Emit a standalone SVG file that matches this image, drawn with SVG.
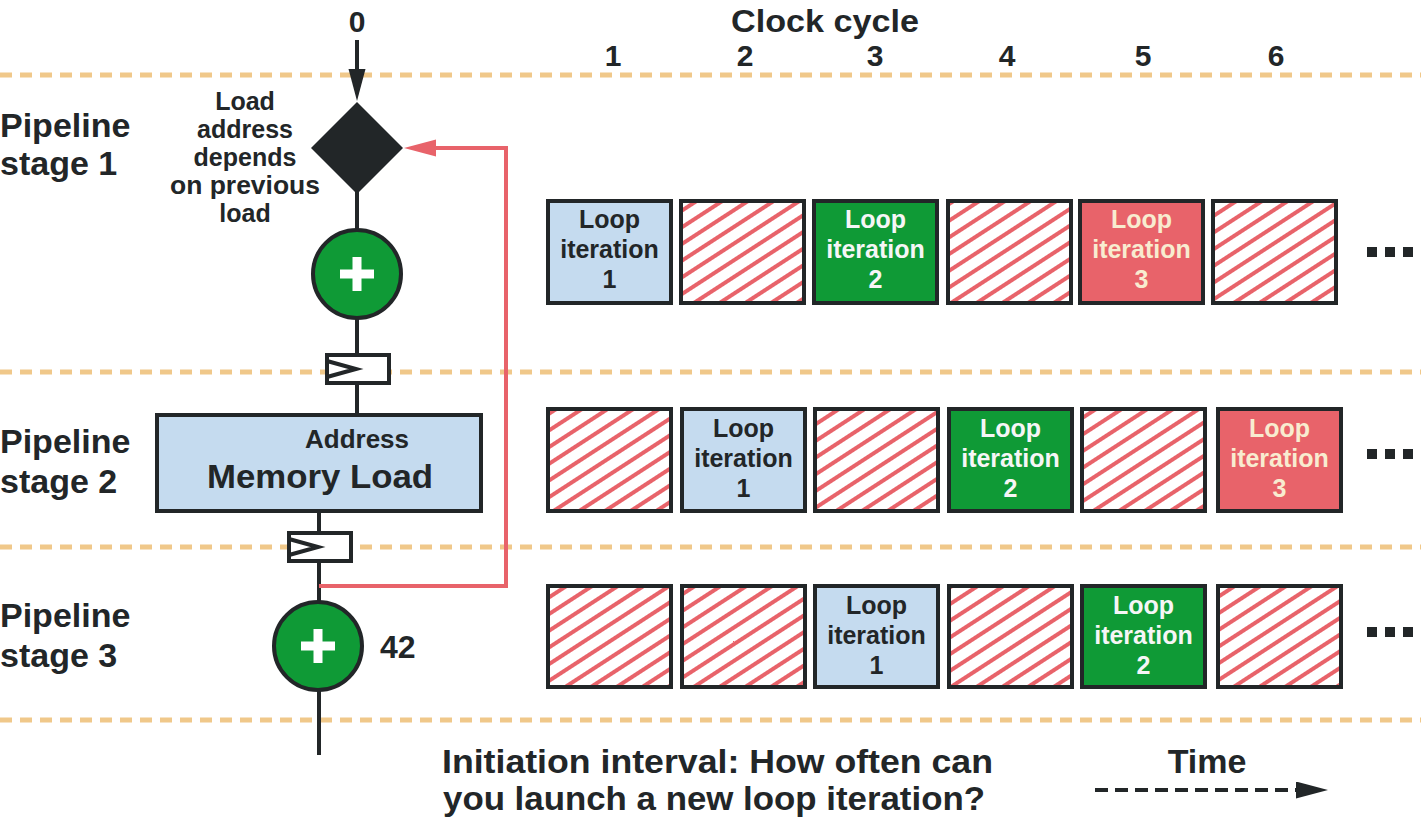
<svg xmlns="http://www.w3.org/2000/svg" width="1421" height="825" viewBox="0 0 1421 825">
<style>
  text { font-family: "Liberation Sans", Arial, "DejaVu Sans", sans-serif; font-weight: bold; fill: #222628; }
  .mid { text-anchor: middle; }
  .stage { font-size: 34px; }
  .bx { font-size: 25px; text-anchor: middle; }
  .wt { fill: #f6f6f6; }
  .cr { fill: #f8ecd0; }
  .sep { stroke: #f0c88a; stroke-width: 5; stroke-dasharray: 12 8; fill: none; }
  .wire { stroke: #222628; stroke-width: 4; fill: none; }
  .red { stroke: #e8636a; stroke-width: 4; fill: none; }
  .cell { stroke: #222628; stroke-width: 4; }
  .blue { fill: #c5dbef; }
  .green { fill: #0f9a36; }
  .redf { fill: #e8636a; }
  .hatch { fill: url(#hatch); }
  .dot { fill: #222628; }
</style>
<defs>
  <pattern id="hatch" patternUnits="userSpaceOnUse" width="14" height="14" patternTransform="rotate(-33)">
    <rect width="14" height="14" fill="#ffffff"/>
    <rect width="14" height="4" fill="#e8636a"/>
  </pattern>
  <marker id="ahBlack" markerUnits="userSpaceOnUse" markerWidth="34" markerHeight="18" refX="12" refY="8.5" orient="auto">
    <path d="M0,0 L32,8.5 L0,17 z" fill="#222628"/>
  </marker>
  <marker id="ahRed" markerUnits="userSpaceOnUse" markerWidth="34" markerHeight="18" refX="12" refY="8.5" orient="auto">
    <path d="M0,0 L32,8.5 L0,17 z" fill="#e8636a"/>
  </marker>
</defs>
<rect width="1421" height="825" fill="#ffffff"/>

<g id="separators">
  <line class="sep" x1="0" y1="75" x2="1421" y2="75"/>
  <line class="sep" x1="0" y1="372" x2="1421" y2="372"/>
  <line class="sep" x1="0" y1="547" x2="1421" y2="547"/>
  <line class="sep" x1="0" y1="720" x2="1421" y2="720"/>
</g>

<g id="labels">
  <text class="mid" x="357" y="32" font-size="30">0</text>
  <text class="mid" x="825" y="32" font-size="31" textLength="188" lengthAdjust="spacingAndGlyphs">Clock cycle</text>
  <text class="mid" x="613" y="66" font-size="30">1</text>
  <text class="mid" x="745" y="66" font-size="30">2</text>
  <text class="mid" x="875" y="66" font-size="30">3</text>
  <text class="mid" x="1007" y="66" font-size="30">4</text>
  <text class="mid" x="1143" y="66" font-size="30">5</text>
  <text class="mid" x="1276" y="66" font-size="30">6</text>
  <text class="stage" x="0" y="137">Pipeline</text>
  <text class="stage" x="0" y="175">stage 1</text>
  <text class="stage" x="0" y="453">Pipeline</text>
  <text class="stage" x="0" y="493">stage 2</text>
  <text class="stage" x="0" y="627">Pipeline</text>
  <text class="stage" x="0" y="667">stage 3</text>
  <text class="mid" font-size="25" x="245" y="110">Load</text>
  <text class="mid" font-size="25" x="245" y="138">address</text>
  <text class="mid" font-size="25" x="245" y="166">depends</text>
  <text class="mid" font-size="25" x="245" y="194" textLength="150" lengthAdjust="spacingAndGlyphs">on previous</text>
  <text class="mid" font-size="25" x="245" y="222">load</text>
  <text x="380" y="658" font-size="32">42</text>
  <text x="442" y="773" font-size="33" textLength="551" lengthAdjust="spacingAndGlyphs">Initiation interval: How often can</text>
  <text x="443" y="810" font-size="33" textLength="542" lengthAdjust="spacingAndGlyphs">you launch a new loop iteration?</text>
  <text class="mid" x="1207" y="773" font-size="34">Time</text>
</g>

<g id="connectors">
  <line class="wire" x1="357" y1="40" x2="357" y2="81" marker-end="url(#ahBlack)"/>
  <line class="wire" x1="357" y1="190" x2="357" y2="230"/>
  <line class="wire" x1="357" y1="318" x2="357" y2="355"/>
  <line class="wire" x1="357" y1="383" x2="357" y2="415"/>
  <line class="wire" x1="319" y1="510" x2="319" y2="533"/>
  <line class="wire" x1="319" y1="561" x2="319" y2="602"/>
  <line class="wire" x1="319" y1="690" x2="319" y2="755"/>
  <path class="red" d="M319,586 H506 V148 H424" marker-end="url(#ahRed)"/>
  <line x1="1095" y1="790" x2="1308" y2="790" stroke="#222628" stroke-width="4" stroke-dasharray="13 7" marker-end="url(#ahBlack)"/>
</g>

<g id="node-diamond">
  <path d="M357,102 L403,148 L357,194 L311,148 z" fill="#222628"/>
</g>
<g id="node-add1">
  <circle cx="357" cy="274" r="44" class="green" stroke="#222628" stroke-width="4"/>
  <rect x="340" y="269.5" width="34" height="9" fill="#ffffff"/>
  <rect x="352.5" y="257" width="9" height="34" fill="#ffffff"/>
</g>
<g id="node-reg1">
  <rect x="327" y="355" width="62" height="28" fill="#ffffff" class="cell"/>
  <polyline class="wire" points="327,361 356,369 327,377"/>
</g>
<g id="node-memload">
  <rect x="157" y="415" width="324" height="96" class="blue cell"/>
  <text class="mid" x="357" y="448" font-size="26">Address</text>
  <text class="mid" x="320" y="488" font-size="33" textLength="226" lengthAdjust="spacingAndGlyphs">Memory Load</text>
</g>
<g id="node-reg2">
  <rect x="289" y="533" width="62" height="28" fill="#ffffff" class="cell"/>
  <polyline class="wire" points="289,539 318,547 289,555"/>
</g>
<g id="node-add2">
  <circle cx="318" cy="646" r="44" class="green" stroke="#222628" stroke-width="4"/>
  <rect x="301" y="641.5" width="34" height="9" fill="#ffffff"/>
  <rect x="313.5" y="629" width="9" height="34" fill="#ffffff"/>
</g>

<g id="row1">
  <g id="r1c1"><rect x="548" y="201" width="123" height="102" class="cell blue"/>
    <text class="bx" x="609.5" y="228">Loop</text><text class="bx" x="609.5" y="258">iteration</text><text class="bx" x="609.5" y="288">1</text></g>
  <g id="r1c2"><rect x="681" y="201" width="123" height="102" class="cell hatch"/></g>
  <g id="r1c3"><rect x="814" y="201" width="123" height="102" class="cell green"/>
    <text class="bx wt" x="875.5" y="228">Loop</text><text class="bx wt" x="875.5" y="258">iteration</text><text class="bx wt" x="875.5" y="288">2</text></g>
  <g id="r1c4"><rect x="948" y="201" width="123" height="102" class="cell hatch"/></g>
  <g id="r1c5"><rect x="1080" y="201" width="123" height="102" class="cell redf"/>
    <text class="bx cr" x="1141.5" y="228">Loop</text><text class="bx cr" x="1141.5" y="258">iteration</text><text class="bx cr" x="1141.5" y="288">3</text></g>
  <g id="r1c6"><rect x="1213" y="201" width="123" height="102" class="cell hatch"/></g>
  <g id="r1dots"><rect class="dot" x="1367" y="247" width="10" height="10"/><rect class="dot" x="1385" y="247" width="10" height="10"/><rect class="dot" x="1403" y="247" width="10" height="10"/></g>
</g>

<g id="row2">
  <g id="r2c1"><rect x="548" y="409" width="123" height="102" class="cell hatch"/></g>
  <g id="r2c2"><rect x="682" y="409" width="123" height="102" class="cell blue"/>
    <text class="bx" x="743.5" y="437">Loop</text><text class="bx" x="743.5" y="467">iteration</text><text class="bx" x="743.5" y="497">1</text></g>
  <g id="r2c3"><rect x="815" y="409" width="123" height="102" class="cell hatch"/></g>
  <g id="r2c4"><rect x="949" y="409" width="123" height="102" class="cell green"/>
    <text class="bx wt" x="1010.5" y="437">Loop</text><text class="bx wt" x="1010.5" y="467">iteration</text><text class="bx wt" x="1010.5" y="497">2</text></g>
  <g id="r2c5"><rect x="1082" y="409" width="123" height="102" class="cell hatch"/></g>
  <g id="r2c6"><rect x="1218" y="409" width="123" height="102" class="cell redf"/>
    <text class="bx cr" x="1279.5" y="437">Loop</text><text class="bx cr" x="1279.5" y="467">iteration</text><text class="bx cr" x="1279.5" y="497">3</text></g>
  <g id="r2dots"><rect class="dot" x="1367" y="449" width="10" height="10"/><rect class="dot" x="1385" y="449" width="10" height="10"/><rect class="dot" x="1403" y="449" width="10" height="10"/></g>
</g>

<g id="row3">
  <g id="r3c1"><rect x="548" y="586" width="123" height="101" class="cell hatch"/></g>
  <g id="r3c2"><rect x="682" y="586" width="123" height="101" class="cell hatch"/></g>
  <g id="r3c3"><rect x="815" y="586" width="123" height="101" class="cell blue"/>
    <text class="bx" x="876.5" y="614">Loop</text><text class="bx" x="876.5" y="644">iteration</text><text class="bx" x="876.5" y="674">1</text></g>
  <g id="r3c4"><rect x="949" y="586" width="123" height="101" class="cell hatch"/></g>
  <g id="r3c5"><rect x="1082" y="586" width="123" height="101" class="cell green"/>
    <text class="bx wt" x="1143.5" y="614">Loop</text><text class="bx wt" x="1143.5" y="644">iteration</text><text class="bx wt" x="1143.5" y="674">2</text></g>
  <g id="r3c6"><rect x="1218" y="586" width="123" height="101" class="cell hatch"/></g>
  <g id="r3dots"><rect class="dot" x="1367" y="627" width="10" height="10"/><rect class="dot" x="1385" y="627" width="10" height="10"/><rect class="dot" x="1403" y="627" width="10" height="10"/></g>
</g>
</svg>
